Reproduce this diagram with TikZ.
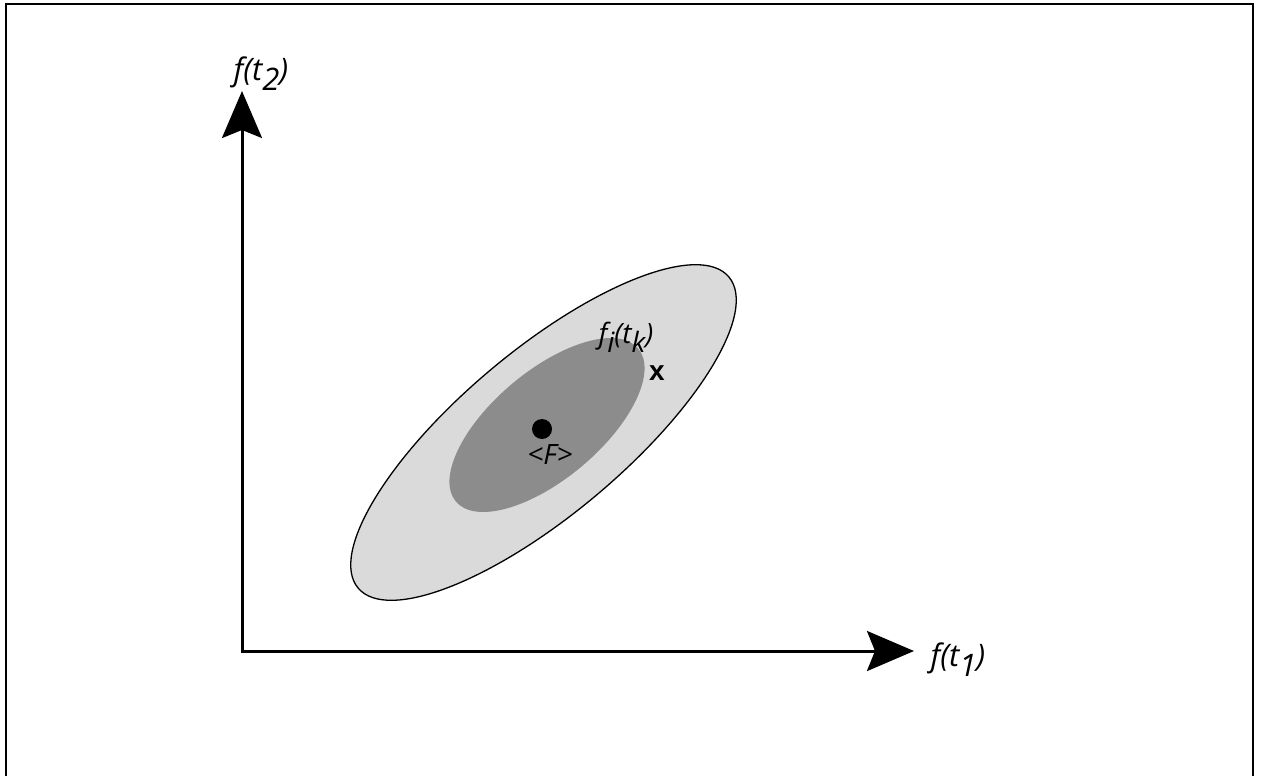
\documentclass[tikz,border=0pt]{standalone}
\usepackage{fontspec}
\setmainfont{Open Sans}
\newfontfamily\boldx{Liberation Sans}
\usetikzlibrary{arrows.meta,shapes.geometric}
\definecolor{outergray}{RGB}{218,218,218}
\definecolor{innergray}{RGB}{140,140,140}
\tikzset{
  frameline/.style={line width=2pt, line cap=butt},
  axisline/.style={line width=3pt, line join=miter,
    {Stealth[length=47pt,width=40pt,inset=8pt]}-{Stealth[length=47pt,width=40pt,inset=8pt]}},
  lbl/.style={inner sep=0pt, font=\fontsize{31}{34}\selectfont\itshape},
  smalllbl/.style={inner sep=0pt, font=\fontsize{28}{30}\selectfont\itshape},
}
\newcommand{\lowsub}[1]{\raisebox{-0.32em}{#1}}
\begin{document}
\begin{tikzpicture}[x={(1pt,0)}, y={(0,-1pt)}]
\useasboundingbox (0,0) rectangle (1261,776);
% frame (open at bottom)
\draw[frameline] (6,776) -- (6,4) -- (1253,4) -- (1253,776);
% ellipses
\node[ellipse, draw=black, line width=1.3pt, fill=outergray, rotate=40,
      minimum width=484pt, minimum height=164pt, inner sep=0pt] (outer) at (543.5,432.5) {};
\node[ellipse, fill=innergray, rotate=40,
      minimum width=238pt, minimum height=108pt, inner sep=0pt] (inner) at (547,425) {};
% axes
\coordinate (O) at (242,651);
\coordinate (Ytip) at (242,91);
\coordinate (Xtip) at (914,651);
\draw[axisline] (Ytip) -- (O) -- (Xtip);
% labels
\node[lbl] (ylab) at (261,74) {f(t\lowsub{2})};
\node[lbl] (xlab) at (958,660) {f(t\lowsub{1})};
% mean point
\node[circle, fill=black, minimum size=20pt, inner sep=0pt] (mean) at (542,429) {};
\node[smalllbl] (meanlab) at (550,455) {<F>};
% sample point
\node[inner sep=0pt, font=\fontsize{28}{30}\selectfont\boldx\bfseries] (xmark) at (657,373) {x};
\node[smalllbl] (samplelab) at (626,337) {f\lowsub{i}(t\lowsub{k})};
\end{tikzpicture}
\end{document}
